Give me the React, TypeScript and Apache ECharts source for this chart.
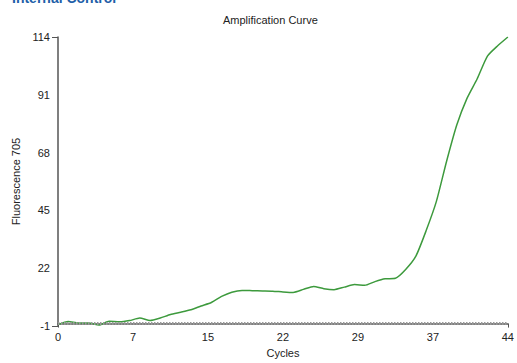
import React, { useEffect, useRef } from "react";
import * as echarts from "echarts";

const cycles: number[] = Array.from({ length: 45 }, (_, i) => i);
const fluorescence: number[] = [
  -0.4, 0.8, 0.2, 0.2, -0.6, 0.9, 0.7, 1.2, 2.2, 1.2,
  2.2, 3.6, 4.5, 5.5, 7.0, 8.4, 10.8, 12.5, 13.2, 13.1,
  13.0, 12.9, 12.6, 12.4, 13.6, 14.8, 13.9, 13.5, 14.5, 15.5,
  15.2, 16.7, 17.8, 18.0, 21.5, 26.8, 36.9, 48.5, 64.5, 79.0,
  89.6, 97.4, 106.4, 110.5, 114.0,
];
const yTicks: number[] = [-1, 22, 45, 68, 91, 114];
const xTicks: number[] = [0, 44 / 6, 88 / 6, 22, 176 / 6, 220 / 6, 44];
const threshold = 0;

const FONT = "'Liberation Sans', Arial, sans-serif";

export default function App() {
  const ref = useRef<HTMLDivElement>(null);
  useEffect(() => {
    if (!ref.current) return;
    const chart = echarts.init(ref.current, null, { renderer: "svg" });
    chart.setOption({
      animation: false,
      backgroundColor: "#ffffff",
      textStyle: { fontFamily: FONT },
      title: {
        text: "Amplification Curve",
        left: 218,
        top: 9,
        textStyle: { fontSize: 11, fontWeight: "normal", color: "#222", fontFamily: FONT },
      },
      graphic: [
        {
          type: "text",
          left: 12,
          top: -9,
          style: {
            text: "Internal Control",
            font: "bold 14px " + FONT,
            fill: "#1f5fa8",
          },
        },
      ],
      grid: { left: 58, right: 6, top: 37, bottom: 31, containLabel: false },
      xAxis: {
        type: "value",
        min: 0,
        max: 44,
        name: "Cycles",
        nameLocation: "middle",
        nameGap: 17,
        nameTextStyle: { fontSize: 11, color: "#222", fontFamily: FONT },
        axisLine: { show: true, lineStyle: { color: "#555", width: 1.5 } },
        axisTick: { show: true, customValues: [0, 44], length: 4, lineStyle: { color: "#555" } },
        axisLabel: {
          customValues: xTicks,
          formatter: (v: number) => String(Math.round(v)),
          fontSize: 11,
          color: "#222",
          margin: 5,
          fontFamily: FONT,
        },
        splitLine: { show: false },
      },
      yAxis: {
        type: "value",
        min: -1,
        max: 114,
        name: "Fluorescence 705",
        nameLocation: "middle",
        nameGap: 36,
        nameTextStyle: { fontSize: 11, color: "#222", fontFamily: FONT },
        axisLine: { show: true, lineStyle: { color: "#555", width: 1.5 } },
        axisTick: { show: true, customValues: [-1, 114], length: 6, lineStyle: { color: "#555" } },
        axisLabel: {
          customValues: yTicks,
          fontSize: 11,
          color: "#222",
          margin: 8,
          fontFamily: FONT,
        },
        splitLine: { show: false },
      },
      series: [
        {
          type: "line",
          data: cycles.map((c, i) => [c, fluorescence[i]]),
          showSymbol: false,
          smooth: 0.2,
          lineStyle: { color: "#3d9a3d", width: 1.5 },
          itemStyle: { color: "#3d9a3d" },
          markLine: {
            silent: true,
            symbol: "none",
            label: { show: false },
            lineStyle: { color: "#999999", width: 3, type: [1.5, 1.5] },
            data: [{ yAxis: threshold }],
          },
        },
      ],
    });
    return () => chart.dispose();
  }, []);
  return <div ref={ref} style={{ width: 517, height: 363, position: "absolute", left: 0, top: 0 }} />;
}
